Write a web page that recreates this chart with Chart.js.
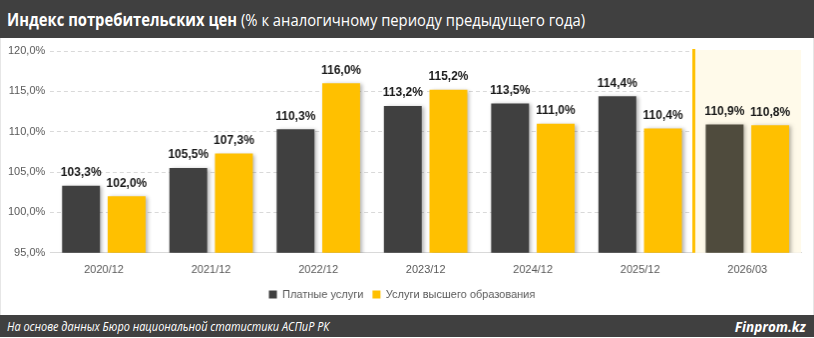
<!DOCTYPE html>
<html><head><meta charset="utf-8">
<script src="https://cdn.jsdelivr.net/npm/chart.js@4/dist/chart.umd.min.js"></script>
<style>
html,body{margin:0;padding:0;background:#fff;}
#wrap{position:relative;width:814px;height:338px;overflow:hidden;background:#fff;}
#title{position:absolute;left:0;top:0;width:814px;height:38px;background:#404040;}
#title div{position:absolute;left:7px;top:0;color:#fff;font-family:"Open Sans",sans-serif;font-size:17px;line-height:40px;white-space:nowrap;transform:scaleX(0.87);transform-origin:left center;}
#foot{position:absolute;left:0;top:315px;width:814px;height:22px;background:#404040;}
#foot div{position:absolute;left:7px;top:0;color:#fff;font-family:"Open Sans",sans-serif;font-style:italic;font-size:13px;line-height:22px;white-space:nowrap;transform:scaleX(0.84);transform-origin:left center;}
#foot span{position:absolute;right:8px;top:0;color:#fff;font-family:"Open Sans",sans-serif;font-style:italic;font-weight:bold;font-size:15px;line-height:22px;transform:scaleX(0.9);transform-origin:right center;}
#cv{position:absolute;left:0;top:38px;border-left:1px solid #e6e6e6;border-right:1px solid #e6e6e6;box-sizing:border-box;}
</style></head>
<body><div id="wrap">
<div id="title"><div><b>Индекс потребительских цен</b> (% к аналогичному периоду предыдущего года)</div></div>
<canvas id="cv" width="814" height="277"></canvas>
<div id="foot"><div>На основе данных Бюро национальной статистики АСПиР РК</div><span>Finprom.kz</span></div>
</div>
<script>
const categories = ["2020/12","2021/12","2022/12","2023/12","2024/12","2025/12","2026/03"];
const paidServices = [103.3,105.5,110.3,113.2,113.5,114.4,110.9];
const higherEducation = [102.0,107.3,116.0,115.2,111.0,110.4,110.8];
const seriesNames = ["Платные услуги","Услуги высшего образования"];
const yTicks = {min:95,max:120,step:5};

const fmt = v => v.toFixed(1).replace('.',',') + '%';
const FONT = '"Liberation Sans", Arial, sans-serif';

const highlightPlugin = {
  id:'highlight',
  beforeDatasetsDraw(chart){
    const {ctx,chartArea,scales:{x}} = chart;
    const n = categories.length;
    const left = (x.getPixelForValue(n-2)+x.getPixelForValue(n-1))/2;
    ctx.save();
    ctx.fillStyle='#FFFAEA';
    ctx.fillRect(left,chartArea.top-1,chartArea.right-left,chartArea.bottom-chartArea.top+1);
    ctx.strokeStyle='#FFC000';ctx.lineWidth=3;
    ctx.beginPath();ctx.moveTo(left,chartArea.top-2);ctx.lineTo(left,chartArea.bottom);ctx.stroke();
    ctx.restore();
  }
};
const shadowPlugin = {
  id:'shadow',
  beforeDatasetDraw(chart){const c=chart.ctx;c.save();c.shadowColor='rgba(0,0,0,0.3)';c.shadowBlur=4;c.shadowOffsetX=2;c.shadowOffsetY=1;},
  afterDatasetDraw(chart){chart.ctx.restore();}
};
const labelPlugin = {
  id:'labels',
  afterDatasetsDraw(chart){
    const ctx=chart.ctx;ctx.save();
    ctx.font='bold 12px '+FONT;ctx.fillStyle='#1a1a1a';ctx.textAlign='center';ctx.textBaseline='bottom';
    chart.data.datasets.forEach((ds,i)=>{
      chart.getDatasetMeta(i).data.forEach((el,j)=>{
        ctx.fillText(fmt(ds.data[j]),el.x,el.y-7);
      });
    });
    ctx.restore();
  }
};

new Chart(document.getElementById('cv'),{
  type:'bar',
  data:{labels:categories,datasets:[
    {label:seriesNames[0],data:paidServices,backgroundColor:paidServices.map((v,i)=>i===paidServices.length-1?'#4F4B3D':'#404040'),categoryPercentage:0.85,barPercentage:0.83},
    {label:seriesNames[1],data:higherEducation,backgroundColor:'#FFC000',categoryPercentage:0.85,barPercentage:0.83}
  ]},
  options:{
    responsive:false,animation:false,
    layout:{padding:{left:2,right:12,top:13,bottom:5}},
    plugins:{
      legend:{position:'bottom',labels:{boxWidth:8,boxHeight:8,padding:9,color:'#595959',font:{family:FONT,size:11},
        generateLabels:(chart)=>chart.data.datasets.map((d,i)=>({text:d.label,fillStyle:i===0?'#404040':'#FFC000',strokeStyle:'rgba(0,0,0,0)',lineWidth:0,datasetIndex:i,fontColor:'#595959'}))}},
      tooltip:{enabled:false}
    },
    scales:{
      x:{grid:{display:false},border:{display:true,color:'#d9d9d9'},ticks:{color:'#595959',font:{family:FONT,size:11},padding:3}},
      y:{min:yTicks.min,max:yTicks.max,ticks:{stepSize:yTicks.step,color:'#595959',font:{family:FONT,size:11},padding:5,callback:v=>fmt(v)},
        grid:{color:'#d9d9d9',drawTicks:false},border:{display:false,dash:[4,3]}}
    }
  },
  plugins:[highlightPlugin,shadowPlugin,labelPlugin]
});
</script></body></html>
